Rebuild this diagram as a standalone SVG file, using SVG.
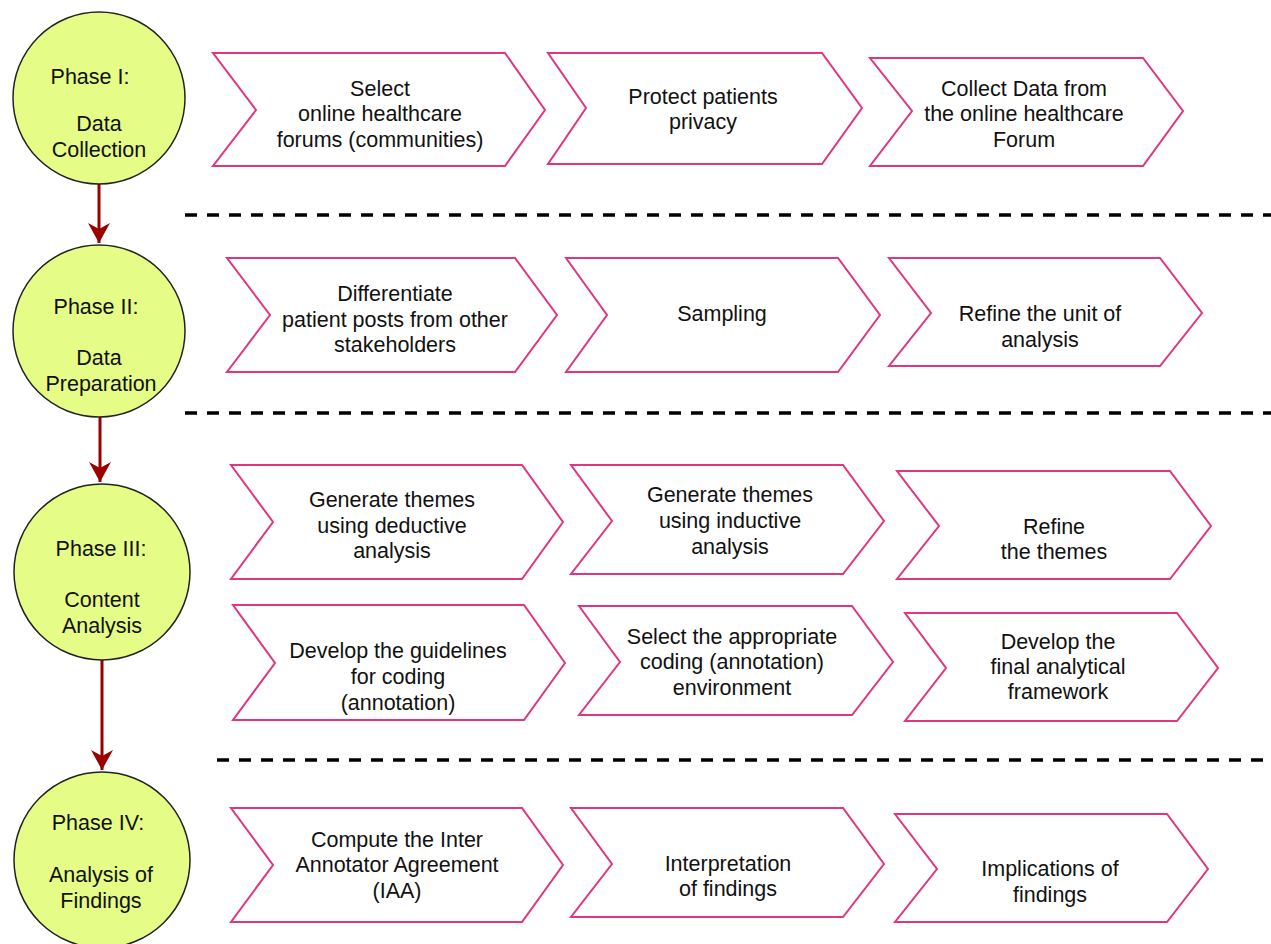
<svg xmlns="http://www.w3.org/2000/svg" width="1271" height="944" viewBox="0 0 1271 944">
<style>
.phase{fill:#e5fc86;stroke:#222;stroke-width:1.5}
.chev{fill:#fff;stroke:#e0357f;stroke-width:2}
text{font-family:"Liberation Sans",Arial,Helvetica,sans-serif;font-size:21.5px;fill:#111;text-anchor:middle}
.sep{stroke:#000;stroke-width:3.5;stroke-dasharray:12 10;fill:none}
.arr{stroke:#990000;stroke-width:3;fill:none}
</style>
<defs>
<marker id="ah" markerUnits="userSpaceOnUse" viewBox="-20 -11 21 22" refX="0" refY="0" markerWidth="21" markerHeight="22" orient="auto">
<path d="M0,0 L-20,-11 L-14,0 L-20,11 Z" fill="#990000"/>
</marker>
</defs>
<rect width="1271" height="944" fill="#fff"/>

<g id="separators">
<line class="sep" x1="185" y1="215" x2="1271" y2="215"/>
<line class="sep" x1="185" y1="413" x2="1271" y2="413"/>
<line class="sep" x1="217" y1="760" x2="1271" y2="760"/>
</g>

<g id="connectors">
<line class="arr" x1="99" y1="184" x2="99" y2="243" marker-end="url(#ah)"/>
<line class="arr" x1="100" y1="417" x2="100" y2="482" marker-end="url(#ah)"/>
<line class="arr" x1="102" y1="660" x2="102" y2="770" marker-end="url(#ah)"/>
</g>

<g id="phase1">
<circle class="phase" cx="99" cy="98" r="86"/>
<text x="90" y="84">Phase I:</text>
<text x="99" y="131">Data</text>
<text x="99" y="157">Collection</text>
</g>
<g id="phase2">
<circle class="phase" cx="99" cy="331" r="86"/>
<text x="96" y="314">Phase II:</text>
<text x="99" y="365">Data</text>
<text x="101" y="391">Preparation</text>
</g>
<g id="phase3">
<circle class="phase" cx="102" cy="572" r="88"/>
<text x="101" y="556">Phase III:</text>
<text x="102" y="607">Content</text>
<text x="102" y="633">Analysis</text>
</g>
<g id="phase4">
<circle class="phase" cx="102" cy="860" r="88"/>
<text x="98" y="830">Phase IV:</text>
<text x="101" y="882">Analysis of</text>
<text x="101" y="908">Findings</text>
</g>

<g id="s1a">
<polygon class="chev" points="213,53 505,53 545,110 505,166 213,166 256,110"/>
<text x="380" y="96">Select</text>
<text x="380" y="121">online healthcare</text>
<text x="380" y="147">forums (communities)</text>
</g>
<g id="s1b">
<polygon class="chev" points="548,53 822,53 862,108 822,164 548,164 586,108"/>
<text x="703" y="104">Protect patients</text>
<text x="703" y="129">privacy</text>
</g>
<g id="s1c">
<polygon class="chev" points="870,58 1143,58 1183,111 1143,166 870,166 912,111"/>
<text x="1024" y="96">Collect Data from</text>
<text x="1024" y="121">the online healthcare</text>
<text x="1024" y="147">Forum</text>
</g>

<g id="s2a">
<polygon class="chev" points="227,258 515,258 557,315 515,372 227,372 270,315"/>
<text x="395" y="301">Differentiate</text>
<text x="395" y="327">patient posts from other</text>
<text x="395" y="352">stakeholders</text>
</g>
<g id="s2b">
<polygon class="chev" points="566,258 838,258 880,315 838,372 566,372 607,315"/>
<text x="722" y="321">Sampling</text>
</g>
<g id="s2c">
<polygon class="chev" points="889,258 1160,258 1202,313 1160,366 889,366 931,313"/>
<text x="1040" y="321">Refine the unit of</text>
<text x="1040" y="347">analysis</text>
</g>

<g id="s3a">
<polygon class="chev" points="231,465 522,465 563,522 522,579 231,579 273,522"/>
<text x="392" y="507">Generate themes</text>
<text x="392" y="533">using deductive</text>
<text x="392" y="558">analysis</text>
</g>
<g id="s3b">
<polygon class="chev" points="571,465 843,465 884,521 843,574 571,574 612,521"/>
<text x="730" y="502">Generate themes</text>
<text x="730" y="528">using inductive</text>
<text x="730" y="554">analysis</text>
</g>
<g id="s3c">
<polygon class="chev" points="897,471 1170,471 1211,526 1170,579 897,579 939,526"/>
<text x="1054" y="534">Refine</text>
<text x="1054" y="559">the themes</text>
</g>

<g id="s4a">
<polygon class="chev" points="233,605 524,605 565,663 524,720 233,720 275,663"/>
<text x="398" y="658">Develop the guidelines</text>
<text x="398" y="684">for coding</text>
<text x="398" y="710">(annotation)</text>
</g>
<g id="s4b">
<polygon class="chev" points="579,606 852,606 893,662 852,715 579,715 620,662"/>
<text x="732" y="644">Select the appropriate</text>
<text x="732" y="669">coding (annotation)</text>
<text x="732" y="695">environment</text>
</g>
<g id="s4c">
<polygon class="chev" points="905,613 1177,613 1218,668 1177,721 905,721 946,668"/>
<text x="1058" y="649">Develop the</text>
<text x="1058" y="674">final analytical</text>
<text x="1058" y="699">framework</text>
</g>

<g id="s5a">
<polygon class="chev" points="231,808 522,808 563,865 522,922 231,922 273,865"/>
<text x="397" y="847">Compute the Inter</text>
<text x="397" y="872">Annotator Agreement</text>
<text x="397" y="898">(IAA)</text>
</g>
<g id="s5b">
<polygon class="chev" points="571,808 843,808 884,864 843,917 571,917 612,864"/>
<text x="728" y="871">Interpretation</text>
<text x="728" y="896">of findings</text>
</g>
<g id="s5c">
<polygon class="chev" points="895,814 1167,814 1208,869 1167,922 895,922 937,869"/>
<text x="1050" y="876">Implications of</text>
<text x="1050" y="902">findings</text>
</g>
</svg>
